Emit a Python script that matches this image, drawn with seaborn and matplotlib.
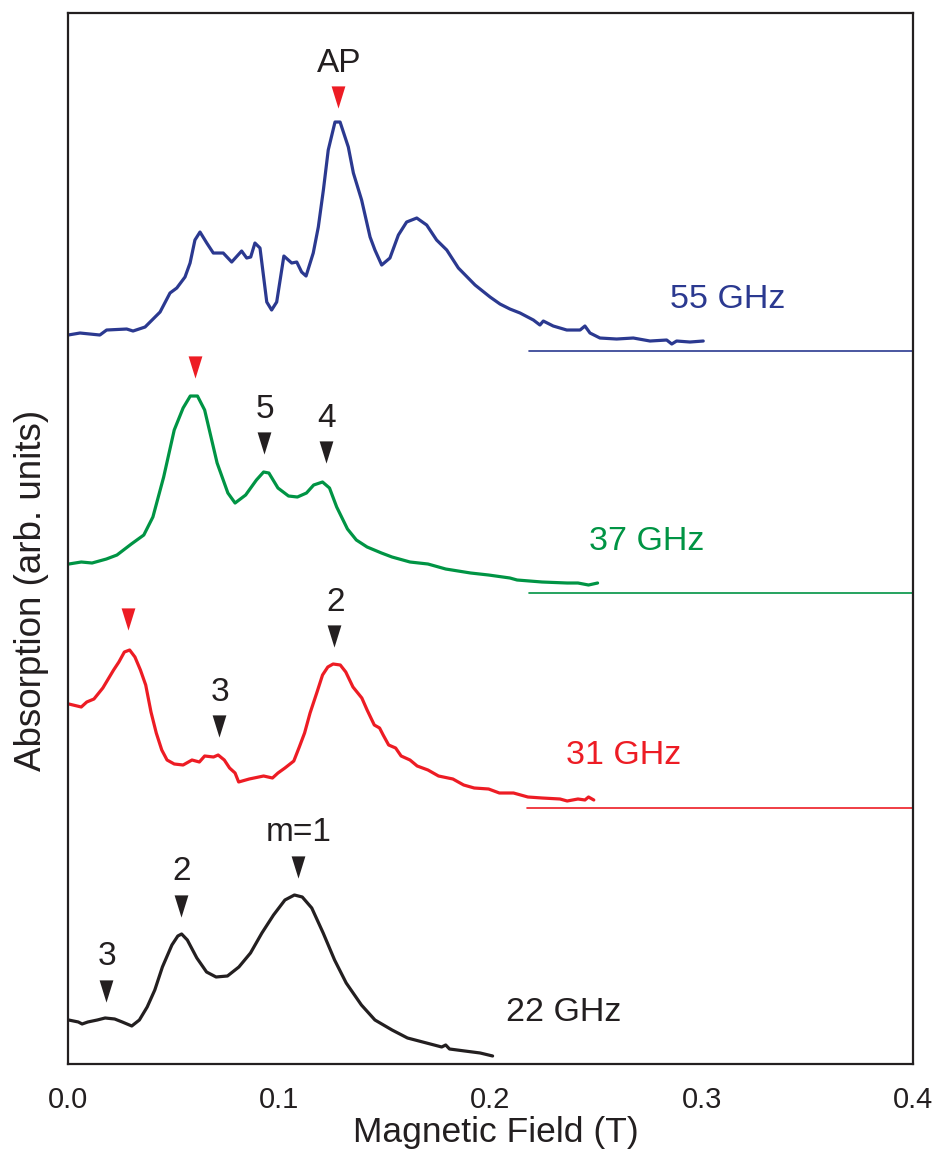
import numpy as np
import matplotlib
matplotlib.use("Agg")
import matplotlib.pyplot as plt
import seaborn as sns
import pandas as pd

# field (T) and absorption (arb. units, traces already offset)
field_55 = [0.0001, 0.0057, 0.0151, 0.0183, 0.0278, 0.0308, 0.0365, 0.0436, 0.0483, 0.0515,
            0.0554, 0.0578, 0.0601, 0.0625, 0.0657, 0.0688, 0.0735, 0.0775, 0.0822, 0.0846,
            0.0865, 0.0885, 0.0909, 0.0941, 0.0964, 0.0988, 0.1022, 0.1059, 0.1083, 0.1106,
            0.1127, 0.1161, 0.1185, 0.1209, 0.1232, 0.1264, 0.1288, 0.1327, 0.1351, 0.1390,
            0.1430, 0.1453, 0.1485, 0.1524, 0.1564, 0.1603, 0.1651, 0.1698, 0.1745, 0.1793,
            0.1848, 0.1927, 0.1998, 0.2045, 0.2092, 0.2140, 0.2203, 0.2234, 0.2250, 0.2297,
            0.2361, 0.2424, 0.2447, 0.2471, 0.2518, 0.2597, 0.2676, 0.2755, 0.2834, 0.2858,
            0.2881, 0.2944, 0.3007]
abs_55 = [7.29, 7.31, 7.29, 7.34, 7.35, 7.33, 7.37, 7.52, 7.71, 7.76,
          7.87, 8.01, 8.24, 8.32, 8.21, 8.11, 8.11, 8.02, 8.13, 8.06,
          8.07, 8.21, 8.16, 7.62, 7.54, 7.62, 8.08, 8.01, 8.02, 7.92,
          7.88, 8.11, 8.37, 8.74, 9.14, 9.42, 9.42, 9.17, 8.91, 8.64,
          8.27, 8.14, 7.99, 8.06, 8.29, 8.42, 8.46, 8.39, 8.24, 8.14,
          7.96, 7.79, 7.67, 7.60, 7.55, 7.51, 7.44, 7.39, 7.43, 7.38,
          7.34, 7.34, 7.38, 7.31, 7.26, 7.25, 7.26, 7.23, 7.24, 7.20,
          7.23, 7.22, 7.23]

field_37 = [0.0004, 0.0063, 0.0114, 0.0182, 0.0232, 0.0300, 0.0359, 0.0402, 0.0453, 0.0503,
            0.0545, 0.0579, 0.0613, 0.0647, 0.0706, 0.0757, 0.0791, 0.0841, 0.0892, 0.0926,
            0.0951, 0.0994, 0.1044, 0.1086, 0.1129, 0.1163, 0.1205, 0.1238, 0.1272, 0.1323,
            0.1365, 0.1416, 0.1484, 0.1534, 0.1619, 0.1704, 0.1788, 0.1906, 0.1991, 0.2092,
            0.2126, 0.2244, 0.2363, 0.2414, 0.2464, 0.2507]
abs_37 = [5.00, 5.02, 5.01, 5.05, 5.09, 5.20, 5.29, 5.47, 5.87, 6.34,
          6.56, 6.68, 6.68, 6.54, 6.01, 5.71, 5.61, 5.69, 5.84, 5.92,
          5.91, 5.76, 5.68, 5.67, 5.71, 5.79, 5.82, 5.76, 5.57, 5.35,
          5.24, 5.17, 5.11, 5.07, 5.02, 5.00, 4.95, 4.91, 4.89, 4.86,
          4.84, 4.82, 4.81, 4.81, 4.79, 4.81]

field_31 = [0.0004, 0.0063, 0.0089, 0.0123, 0.0165, 0.0182, 0.0216, 0.0241, 0.0267, 0.0292,
            0.0317, 0.0343, 0.0368, 0.0393, 0.0418, 0.0444, 0.0469, 0.0503, 0.0545, 0.0587,
            0.0622, 0.0647, 0.0689, 0.0711, 0.0740, 0.0765, 0.0791, 0.0808, 0.0858, 0.0926,
            0.0968, 0.0994, 0.1027, 0.1069, 0.1095, 0.1120, 0.1146, 0.1179, 0.1205, 0.1230,
            0.1255, 0.1289, 0.1315, 0.1349, 0.1391, 0.1416, 0.1450, 0.1475, 0.1492, 0.1518,
            0.1551, 0.1577, 0.1619, 0.1653, 0.1704, 0.1754, 0.1822, 0.1873, 0.1923, 0.1991,
            0.2042, 0.2109, 0.2177, 0.2244, 0.2329, 0.2363, 0.2414, 0.2447, 0.2464, 0.2489]
abs_31 = [3.60, 3.57, 3.62, 3.65, 3.76, 3.82, 3.94, 4.02, 4.12, 4.14,
          4.07, 3.94, 3.79, 3.52, 3.31, 3.14, 3.04, 3.00, 2.99, 3.04,
          3.02, 3.08, 3.07, 3.09, 3.04, 2.96, 2.91, 2.82, 2.85, 2.88,
          2.86, 2.91, 2.96, 3.03, 3.17, 3.31, 3.51, 3.72, 3.89, 3.97,
          4.00, 3.99, 3.92, 3.77, 3.66, 3.54, 3.39, 3.36, 3.29, 3.19,
          3.16, 3.08, 3.04, 2.98, 2.94, 2.88, 2.85, 2.79, 2.76, 2.75,
          2.71, 2.71, 2.67, 2.66, 2.65, 2.63, 2.65, 2.64, 2.67, 2.64]

field_22 = [0.0003, 0.0049, 0.0067, 0.0094, 0.0139, 0.0176, 0.0221, 0.0257, 0.0302, 0.0338,
            0.0375, 0.0411, 0.0447, 0.0492, 0.0520, 0.0538, 0.0565, 0.0610, 0.0656, 0.0701,
            0.0755, 0.0809, 0.0864, 0.0918, 0.0973, 0.1027, 0.1072, 0.1109, 0.1154, 0.1208,
            0.1262, 0.1317, 0.1389, 0.1453, 0.1534, 0.1607, 0.1697, 0.1769, 0.1788, 0.1806,
            0.1878, 0.1951, 0.2010]
abs_22 = [0.44, 0.42, 0.40, 0.42, 0.44, 0.46, 0.45, 0.42, 0.38, 0.44,
          0.57, 0.74, 0.97, 1.19, 1.28, 1.30, 1.24, 1.06, 0.92, 0.87,
          0.88, 0.97, 1.11, 1.31, 1.49, 1.64, 1.69, 1.67, 1.56, 1.31,
          1.04, 0.81, 0.59, 0.44, 0.34, 0.26, 0.21, 0.17, 0.19, 0.15,
          0.13, 0.11, 0.08]

freq_labels = ["55 GHz", "37 GHz", "31 GHz", "22 GHz"]
colors = ["#2B3990", "#009444", "#ED1C24", "#231F20"]
label_x = [0.3124, 0.2740, 0.2630, 0.2348]
label_y = [7.65, 5.23, 3.09, 0.51]
# zero reference lines for the upper three spectra
base_start = [0.2182, 0.2182, 0.2173]
base_level = [7.13, 4.71, 2.555]

# resonance markers: field, level, label, colour
mark_x = [0.1278, 0.0601, 0.0929, 0.1221, 0.0284, 0.0714, 0.1261, 0.0179, 0.0534, 0.1087]
mark_y = [9.67, 6.97, 6.21, 6.12, 4.45, 3.38, 4.28, 0.73, 1.58, 1.97]
mark_text = ["AP", "", "5", "4", "", "3", "2", "3", "2", "m=1"]
mark_red = [True, True, False, False, True, False, False, False, False, False]

sns.set_style("white")
plt.rcParams["font.family"] = ["Liberation Sans", "DejaVu Sans"]

fig = plt.figure(figsize=(9.4, 11.53), dpi=100)
ax = fig.add_axes([0.0723, 0.0772, 0.8990, 0.9115])

traces = [(field_55, abs_55), (field_37, abs_37), (field_31, abs_31), (field_22, abs_22)]
for (fx, fy), c in zip(traces, colors):
    df = pd.DataFrame({"field": fx, "abs": fy})
    sns.lineplot(data=df, x="field", y="abs", sort=False, color=c, lw=2.3, ax=ax)

for x0, lvl, c in zip(base_start, base_level, colors):
    ax.plot([x0, 0.4], [lvl, lvl], color=c, lw=1.2)

for t, x, y, c in zip(freq_labels, label_x, label_y, colors):
    ax.text(x, y, t, color=c, fontsize=24.5, ha="center", va="center")

tri = [(-0.31, 0.5), (0.31, 0.5), (0, -0.5)]
for x, y, t, red in zip(mark_x, mark_y, mark_text, mark_red):
    ax.plot([x], [y], ls="none", marker=tri, ms=16,
            color="#ED1C24" if red else "#231F20", mec="none")
    if t:
        ax.text(x + 0.0005, y + 0.34, t, fontsize=24, color="#231F20",
                ha="center", va="center")

ax.set_xlim(0, 0.4)
ax.set_ylim(0, 10.51)
ax.set_xticks([0.0, 0.1, 0.2, 0.3, 0.4])
ax.set_xticklabels(["0.0", "0.1", "0.2", "0.3", "0.4"])
ax.set_yticks([])
ax.tick_params(axis="x", direction="in", length=11, width=1.5, pad=16,
               labelsize=21, colors="#231F20")
for s in ax.spines.values():
    s.set_linewidth(1.6)
    s.set_color("#231F20")

ax.set_xlabel("Magnetic Field (T)", fontsize=25.5, color="#231F20")
ax.set_ylabel("Absorption (arb. units)", fontsize=26.5, color="#231F20")
ax.xaxis.set_label_coords(0.506, -0.0495)
ax.yaxis.set_label_coords(-0.023, 0.451)

fig.savefig("out.png", dpi=100)
